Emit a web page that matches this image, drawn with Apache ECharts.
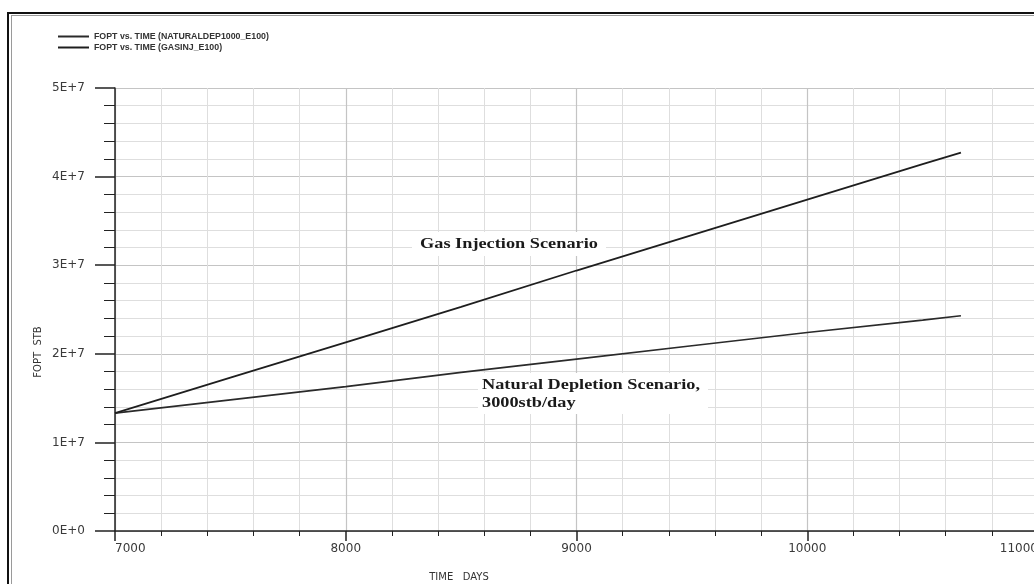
<!DOCTYPE html>
<html>
<head>
<meta charset="utf-8">
<title>FOPT vs. TIME</title>
<script src="https://cdn.jsdelivr.net/npm/echarts@6/dist/echarts.min.js"></script>
<style>
  html, body { margin: 0; padding: 0; background: #ffffff; }
  #chart { width: 1034px; height: 584px; }
</style>
</head>
<body>
<div id="chart"></div>
<script>
// Simulation time, days
const days = [7000, 7500, 8000, 8500, 9000, 9500, 10000, 10500, 10666];
// Field oil production total, STB
const naturalDepletion = [1.33e7, 1.48e7, 1.63e7, 1.79e7, 1.94e7, 2.09e7, 2.24e7, 2.38e7, 2.43e7];
const gasInjection = [1.33e7, 1.73e7, 2.13e7, 2.53e7, 2.94e7, 3.34e7, 3.74e7, 4.14e7, 4.27e7];

const seriesNames = ['FOPT vs. TIME (NATURALDEP1000_E100)', 'FOPT vs. TIME (GASINJ_E100)'];
const xTicks = { min: 7000, max: 11000, step: 1000 };
const yTicks = { min: 0, max: 5e7, step: 1e7 };

const chart = echarts.init(document.getElementById('chart'), null, { renderer: 'canvas' });

function pairs(xs, ys) {
  return xs.map((x, i) => [x, ys[i]]);
}

const axisText = { color: '#3a3a3a', fontFamily: 'DejaVu Sans', fontSize: 12 };

chart.setOption({
  backgroundColor: '#ffffff',
  animation: false,
  legend: {
    orient: 'vertical',
    left: 53,
    top: 27,
    itemWidth: 31,
    itemHeight: 2,
    itemGap: 2,
    icon: 'rect',
    textStyle: { fontFamily: 'Liberation Sans', fontSize: 8.8, color: '#333333', fontWeight: 'bold' },
    data: seriesNames
  },
  grid: {
    left: 115,
    top: 88,
    right: -4,
    bottom: 53,
    outerBoundsMode: 'none'
  },
  xAxis: {
    type: 'value',
    min: xTicks.min,
    max: xTicks.max,
    interval: xTicks.step,
    axisLine: { show: true, onZero: false, lineStyle: { color: '#222222', width: 1.5 } },
    axisTick: { show: true, length: 10, lineStyle: { color: '#222222', width: 1.5 } },
    minorTick: { show: true, splitNumber: 5, length: 5, lineStyle: { color: '#222222', width: 1 } },
    splitLine: { show: true, lineStyle: { color: '#c4c4c4', width: 1.2 } },
    minorSplitLine: { show: true, lineStyle: { color: '#dedede', width: 1 } },
    axisLabel: Object.assign({
      margin: 12,
      alignMinLabel: 'left',
      alignMaxLabel: 'right',
      formatter: v => String(v)
    }, axisText)
  },
  yAxis: {
    type: 'value',
    min: yTicks.min,
    max: yTicks.max,
    interval: yTicks.step,
    axisLine: { show: true, onZero: false, lineStyle: { color: '#222222', width: 1.5 } },
    axisTick: { show: true, length: 20, lineStyle: { color: '#222222', width: 1.5 } },
    minorTick: { show: true, splitNumber: 5, length: 11, lineStyle: { color: '#222222', width: 1 } },
    splitLine: { show: true, lineStyle: { color: '#c4c4c4', width: 1.2 } },
    minorSplitLine: { show: true, lineStyle: { color: '#dedede', width: 1 } },
    axisLabel: Object.assign({
      margin: 30,
      formatter: v => (v === 0 ? '0E+0' : Math.round(v / 1e7) + 'E+7')
    }, axisText)
  },
  series: [
    {
      name: seriesNames[0],
      type: 'line',
      data: pairs(days, naturalDepletion),
      showSymbol: false,
      color: '#2a2a2a',
      lineStyle: { color: '#2a2a2a', width: 1.6 },
      z: 5
    },
    {
      name: seriesNames[1],
      type: 'line',
      data: pairs(days, gasInjection),
      showSymbol: false,
      color: '#1e1e1e',
      lineStyle: { color: '#1e1e1e', width: 1.8 },
      z: 5
    }
  ],
  graphic: [
    // page frame
    { type: 'line', shape: { x1: 8, y1: 12, x2: 8, y2: 600 }, style: { stroke: '#111111', lineWidth: 2 }, z: 10 },
    { type: 'line', shape: { x1: 11.5, y1: 15, x2: 11.5, y2: 600 }, style: { stroke: '#9a9a9a', lineWidth: 1 }, z: 10 },
    { type: 'line', shape: { x1: 7, y1: 13, x2: 1040, y2: 13 }, style: { stroke: '#111111', lineWidth: 2 }, z: 10 },
    { type: 'line', shape: { x1: 11, y1: 15.5, x2: 1040, y2: 15.5 }, style: { stroke: '#9a9a9a', lineWidth: 1 }, z: 10 },
    // axis titles
    {
      type: 'text', x: 38, y: 352, rotation: Math.PI / 2,
      style: { text: 'FOPT  STB', font: '10px "DejaVu Sans"', fill: '#333333', align: 'center', verticalAlign: 'middle' }
    },
    {
      type: 'text', x: 459, y: 577,
      style: { text: 'TIME   DAYS', font: '10px "DejaVu Sans"', fill: '#333333', align: 'center', verticalAlign: 'middle' }
    },
    // scenario annotations (wide-set bold serif)
    { type: 'rect', shape: { x: 412, y: 232, width: 194, height: 24 }, style: { fill: '#ffffff' }, z: 3 },
    {
      type: 'text', x: 420, y: 244, scaleX: 1.22, z: 4,
      style: { text: 'Gas Injection Scenario', font: 'bold 15px "Liberation Serif"', fill: '#1a1a1a', verticalAlign: 'middle' }
    },
    { type: 'rect', shape: { x: 478, y: 373, width: 230, height: 41 }, style: { fill: '#ffffff' }, z: 3 },
    {
      type: 'text', x: 482, y: 394, scaleX: 1.22, z: 4,
      style: { text: 'Natural Depletion Scenario,\n3000stb/day', font: 'bold 15px "Liberation Serif"', lineHeight: 18, fill: '#1a1a1a', verticalAlign: 'middle' }
    }
  ]
});
</script>
</body>
</html>
